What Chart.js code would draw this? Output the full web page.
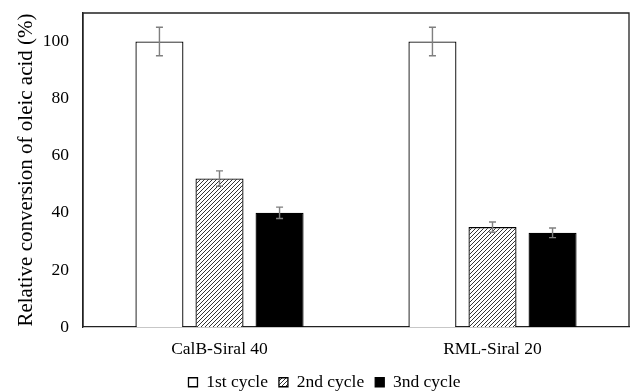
<!DOCTYPE html>
<html>
<head>
<meta charset="utf-8">
<script src="https://cdn.jsdelivr.net/npm/chart.js@4"></script>
<style>
html,body{margin:0;padding:0;background:#fff;}
#wrap{width:630px;height:392px;position:relative;}
</style>
</head>
<body>
<div id="wrap"><canvas id="c" width="630" height="392"></canvas></div>
<script>
const categories = ["CalB-Siral 40", "RML-Siral 20"];
const seriesNames = ["1st cycle", "2nd cycle", "3nd cycle"];
const cycle1 = [100, 100];
const cycle2 = [52, 35];
const cycle3 = [40, 33];
const err1 = [5, 5];
const err2 = [2.7, 1.8];
const err3 = [2, 1.7];
const yTicks = [0, 20, 40, 60, 80, 100];

function hatchPattern() {
  const s = 4;
  const cv = document.createElement('canvas');
  cv.width = s; cv.height = s;
  const g = cv.getContext('2d');
  g.fillStyle = '#fff';
  g.fillRect(0, 0, s, s);
  g.strokeStyle = '#000';
  g.lineWidth = 0.8;
  g.beginPath();
  g.moveTo(-1, s + 1); g.lineTo(s + 1, -1);
  g.moveTo(-1, 1); g.lineTo(1, -1);
  g.moveTo(s - 1, s + 1); g.lineTo(s + 1, s - 1);
  g.stroke();
  return g.createPattern(cv, 'repeat');
}
const ctx = document.getElementById('c').getContext('2d');
const hatch = hatchPattern();

const errors = [err1, err2, err3];

const errorBarPlugin = {
  id: 'errbars',
  afterDatasetsDraw(chart) {
    const c = chart.ctx;
    const y = chart.scales.y;
    c.save();
    c.strokeStyle = '#7f7f7f';
    c.lineWidth = 1.4;
    chart.data.datasets.forEach((ds, di) => {
      const meta = chart.getDatasetMeta(di);
      meta.data.forEach((bar, i) => {
        const v = ds.data[i], e = errors[di][i];
        const yt = y.getPixelForValue(v + e);
        const yb = y.getPixelForValue(v - e);
        const x = bar.x;
        c.beginPath();
        c.moveTo(x, yt); c.lineTo(x, yb);
        c.moveTo(x - 3.5, yt); c.lineTo(x + 3.5, yt);
        c.moveTo(x - 3.5, yb); c.lineTo(x + 3.5, yb);
        c.stroke();
      });
    });
    c.restore();
  }
};

const framePlugin = {
  id: 'frame',
  afterDraw(chart) {
    const a = chart.chartArea;
    const c = chart.ctx;
    c.save();
    c.strokeStyle = '#222';
    c.lineWidth = 1.3;
    c.beginPath();
    c.moveTo(a.left, a.bottom);
    c.lineTo(a.left, a.top);
    c.lineTo(a.right, a.top);
    c.lineTo(a.right, a.bottom);
    c.stroke();
    c.restore();
  }
};

const fam = "'Liberation Serif', 'Times New Roman', serif";
const font = { family: fam, size: 17.5 };

new Chart(ctx, {
  type: 'bar',
  data: {
    labels: categories,
    datasets: [
      { label: seriesNames[0], data: cycle1, backgroundColor: '#ffffff', borderColor: '#000', borderWidth: 1.3 },
      { label: seriesNames[1], data: cycle2, backgroundColor: hatch, borderColor: '#000', borderWidth: 1.3 },
      { label: seriesNames[2], data: cycle3, backgroundColor: '#000000', borderColor: '#000', borderWidth: 1.3 }
    ]
  },
  options: {
    responsive: false,
    animation: false,
    devicePixelRatio: 1,
    layout: { padding: { left: 20, right: 1, top: 13, bottom: -9 } },
    datasets: { bar: { categoryPercentage: 0.66, barPercentage: 0.8 } },
    scales: {
      x: {
        grid: { display: false, drawTicks: false },
        border: { display: true, color: '#222', width: 1.3 },
        ticks: { font: font, color: '#000', padding: 12 },
        afterFit(s) { s.height = 35.5; s.paddingLeft = 0; s.paddingRight = 0; }
      },
      y: {
        min: 0, max: 110,
        afterBuildTicks(s) { s.ticks = yTicks.map(v => ({ value: v })); },
        grid: { display: false, drawTicks: false },
        border: { display: true, color: '#222', width: 1.3 },
        ticks: { font: font, color: '#000', padding: 14 },
        title: { display: true, text: 'Relative conversion of oleic acid (%)', font: { family: fam, size: 21 }, color: '#000', padding: { top: -6, bottom: 0 } },
        afterFit(s) { s.width = 63; s.paddingTop = 0; s.paddingBottom = 0; }
      }
    },
    plugins: {
      legend: {
        position: 'bottom',
        labels: { font: font, color: '#000', boxWidth: 9, boxHeight: 9, padding: 11 }
      },
      tooltip: { enabled: false }
    }
  },
  plugins: [errorBarPlugin, framePlugin]
});
</script>
</body>
</html>
